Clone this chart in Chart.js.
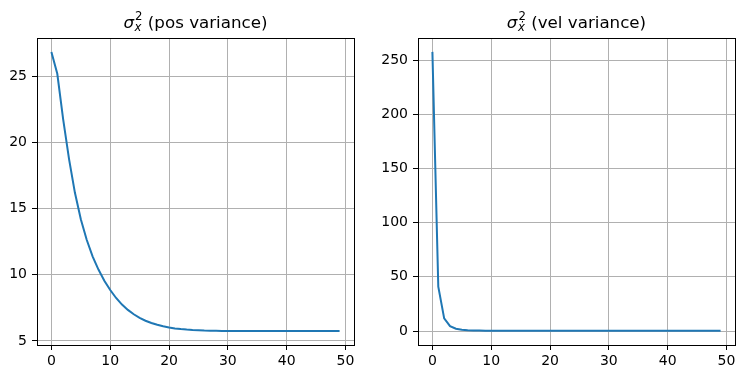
<!DOCTYPE html>
<html>
<head>
<meta charset="utf-8">
<script src="https://cdn.jsdelivr.net/npm/chart.js@4/dist/chart.umd.min.js"></script>
<style>
html,body{margin:0;padding:0;background:#fff;}
#wrap{position:relative;width:745px;height:379px;}
canvas{position:absolute;top:0;}
</style>
</head>
<body>
<div id="wrap">
<canvas id="c1" width="372" height="379" style="left:0;width:372px;height:379px"></canvas>
<canvas id="c2" width="373" height="379" style="left:372px;width:373px;height:379px"></canvas>
</div>
<script>
// ---- data ----
const steps = [0,1,2,3,4,5,6,7,8,9,10,11,12,13,14,15,16,17,18,19,20,21,22,23,24,25,26,27,28,29,30,31,32,33,34,35,36,37,38,39,40,41,42,43,44,45,46,47,48,49];
const posVariance = [26.85,25.2,21.75,18.75,16.2,14.2,12.65,11.4,10.4,9.55,8.85,8.25,7.75,7.35,7.02,6.75,6.53,6.36,6.22,6.11,6.02,5.95,5.90,5.86,5.83,5.81,5.79,5.78,5.77,5.76,5.75,5.75,5.75,5.75,5.75,5.75,5.75,5.75,5.75,5.75,5.75,5.75,5.75,5.75,5.75,5.75,5.75,5.75,5.75,5.75];
const velVariance = [257.5,41.0,11.7,4.5,2.2,1.2,0.8,0.55,0.42,0.35,0.30,0.27,0.25,0.24,0.23,0.22,0.22,0.22,0.22,0.22,0.22,0.22,0.22,0.22,0.22,0.22,0.22,0.22,0.22,0.22,0.22,0.22,0.22,0.22,0.22,0.22,0.22,0.22,0.22,0.22,0.22,0.22,0.22,0.22,0.22,0.22,0.22,0.22,0.22,0.22];
const xTicks = [0,10,20,30,40,50];
const posTicks = [5,10,15,20,25];
const velTicks = [0,50,100,150,200,250];
const titles = [
  {sub:'x', rest:' (pos variance)'},
  {sub:'\u1E8B', rest:' (vel variance)'}
];

const FONT = '"DejaVu Sans", sans-serif';

function framePlugin(title){
  return {
    id:'frame',
    afterDraw(chart){
      const ctx = chart.ctx, a = chart.chartArea;
      ctx.save();
      ctx.strokeStyle = '#000';
      ctx.lineWidth = 1;
      ctx.strokeRect(Math.round(a.left)+0.5, Math.round(a.top)+0.5, Math.round(a.right-a.left), Math.round(a.bottom-a.top));
      // math title
      const big = 16.7, small = 11.7;
      ctx.fillStyle = '#000';
      ctx.textBaseline = 'alphabetic';
      ctx.textAlign = 'left';
      ctx.font = 'italic ' + big + 'px ' + FONT;
      const wSig = ctx.measureText('\u03C3').width;
      ctx.font = 'italic ' + small + 'px ' + FONT;
      const wSub = ctx.measureText(title.sub).width;
      ctx.font = small + 'px ' + FONT;
      const wSup = ctx.measureText('2').width;
      ctx.font = big + 'px ' + FONT;
      const wRest = ctx.measureText(title.rest).width;
      const wScript = Math.max(wSub, wSup) + 1;
      const total = wSig + wScript + wRest;
      const cx = (a.left + a.right)/2;
      const base = 28;
      let x = cx - total/2;
      ctx.font = 'italic ' + big + 'px ' + FONT;
      ctx.fillText('\u03C3', x, base);
      x += wSig + 0.5;
      ctx.font = small + 'px ' + FONT;
      ctx.fillText('2', x + 0.5, base - 8);
      ctx.font = 'italic ' + small + 'px ' + FONT;
      ctx.fillText(title.sub, x, base + 3);
      x += wScript - 0.5;
      ctx.font = big + 'px ' + FONT;
      ctx.fillText(title.rest, x, base);
      ctx.restore();
    }
  };
}

function makeChart(id, values, yMin, yMax, yStep, yTickVals, title, padRight, yWidth){
  const data = steps.map((s,i)=>({x:s, y:values[i]}));
  return new Chart(document.getElementById(id), {
    type:'line',
    data:{datasets:[{data:data, borderColor:'#1f77b4', borderWidth:2, pointRadius:0, tension:0, fill:false}]},
    options:{
      responsive:false, animation:false, devicePixelRatio:1,
      layout:{padding:{left:0, right:padRight, top:38, bottom:0}},
      plugins:{legend:{display:false}, tooltip:{enabled:false}, title:{display:false}},
      scales:{
        x:{type:'linear', min:-2.45, max:51.45,
          afterFit(s){ s.height = 34; },
          afterBuildTicks(s){ s.ticks = xTicks.map(v=>({value:v})); },
          ticks:{color:'#000', font:{family:FONT, size:14}, padding:3, maxRotation:0, includeBounds:false},
          grid:{color:'#b0b0b0', lineWidth:1, tickLength:5, tickColor:'#000', tickWidth:1},
          border:{display:false}
        },
        y:{type:'linear', min:yMin, max:yMax,
          afterFit(s){ s.width = yWidth; },
          afterBuildTicks(s){ s.ticks = yTickVals.map(v=>({value:v})); },
          ticks:{color:'#000', font:{family:FONT, size:14}, padding:5, includeBounds:false, stepSize:yStep},
          grid:{color:'#b0b0b0', lineWidth:1, tickLength:5, tickColor:'#000', tickWidth:1},
          border:{display:false}
        }
      }
    },
    plugins:[framePlugin(title)]
  });
}

makeChart('c1', posVariance, 4.695, 27.905, 5, posTicks, titles[0], 18, 37);
makeChart('c2', velVariance, -12.87, 270.3, 50, velTicks, titles[1], 10, 46);
</script>
</body>
</html>
